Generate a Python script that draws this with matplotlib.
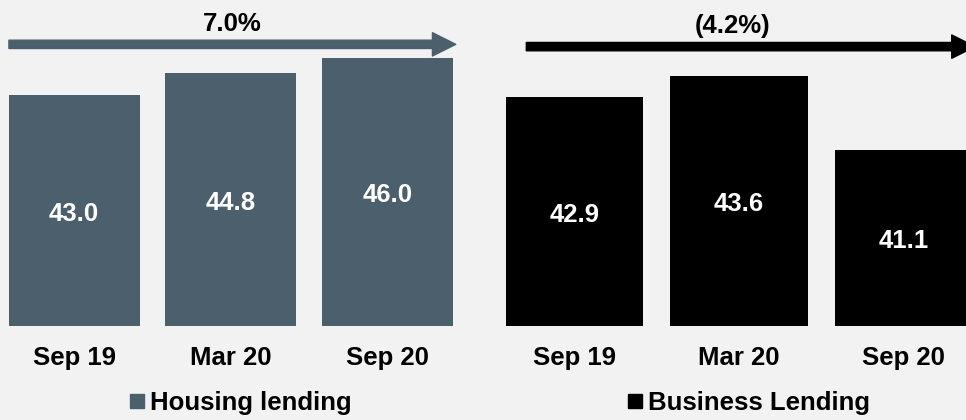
import matplotlib
matplotlib.use("Agg")
import matplotlib.pyplot as plt
from matplotlib.patches import Patch

plt.rcParams["font.family"] = ["Liberation Sans", "DejaVu Sans"]
plt.rcParams["font.weight"] = "bold"

# ==============================
# DATI
# ==============================
periods = ["Sep 19", "Mar 20", "Sep 20"]
housing = [43.0, 44.8, 46.0]
business = [42.9, 43.6, 41.1]
housing_growth = "7.0%"
business_growth = "(4.2%)"

housing_color = "#4b606c"
business_color = "#000000"
bg = "#f2f2f2"
fs = 18.5

fig = plt.figure(figsize=(9.66, 4.2), dpi=100, facecolor=bg)

# assi: baseline a 326 px dall'alto, larghezza metà figura
base = 94 / 420
h = 326 / 420
ax1 = fig.add_axes([0.0, base, 0.5, h])
ax2 = fig.add_axes([0.5, base, 0.5, h])

panels = [
    (ax1, housing, housing_color, (-0.474, 2.612), (24.5, 50.66), 0.835,
     housing_growth, "Housing lending", (-0.417, 2.438), 0.864, 1.01, 0.906, 241),
    (ax2, business, business_color, (-0.554, 2.378), (35.14, 46.19), 0.834,
     business_growth, "Business Lending", (-0.291, 2.433), 0.857, 0.962, 0.898, 749),
]

for (ax, vals, col, xlim, ylim, w, growth, name, arr_x, arr_y,
     lab_x, lab_y, leg_x) in panels:
    ax.set_facecolor(bg)
    x = list(range(len(periods)))
    ax.bar(x, vals, width=w, color=col, bottom=0)
    ax.set_xlim(*xlim)
    ax.set_ylim(*ylim)

    # etichette dei valori al centro della barra
    off = (ylim[1] - ylim[0]) * 3 / 326
    for xi, v in zip(x, vals):
        ax.text(xi, (ylim[0] + v) / 2 - off, f"{v:.1f}", ha="center", va="center",
                color="white", fontsize=fs, fontweight="bold")

    ax.set_xticks(x)
    ax.set_xticklabels(periods, fontsize=fs, fontweight="bold")
    ax.tick_params(axis="x", length=0, pad=14.5)
    ax.set_yticks([])
    for s in ax.spines.values():
        s.set_visible(False)

    # freccia di crescita
    tr = ax.get_xaxis_transform()
    ax.annotate("", xy=(arr_x[1], arr_y), xytext=(arr_x[0], arr_y),
                xycoords=tr, textcoords=tr, annotation_clip=False,
                arrowprops=dict(arrowstyle="simple,head_length=16.8,head_width=16.8,tail_width=6.0",
                                mutation_scale=1, color=col, shrinkA=0, shrinkB=0))
    ax.text(lab_x, lab_y, growth, transform=tr, ha="center", va="baseline",
            fontsize=fs, fontweight="bold", color="black")

    ax.legend(handles=[Patch(color=col, label=name)], loc="center",
              bbox_to_anchor=(leg_x / 966, 0.04), bbox_transform=fig.transFigure,
              frameon=False, fontsize=fs, handlelength=0.54, handleheight=0.45,
              handletextpad=0.25, borderpad=0, borderaxespad=0)

fig.savefig("out.png", dpi=100, facecolor=bg)
